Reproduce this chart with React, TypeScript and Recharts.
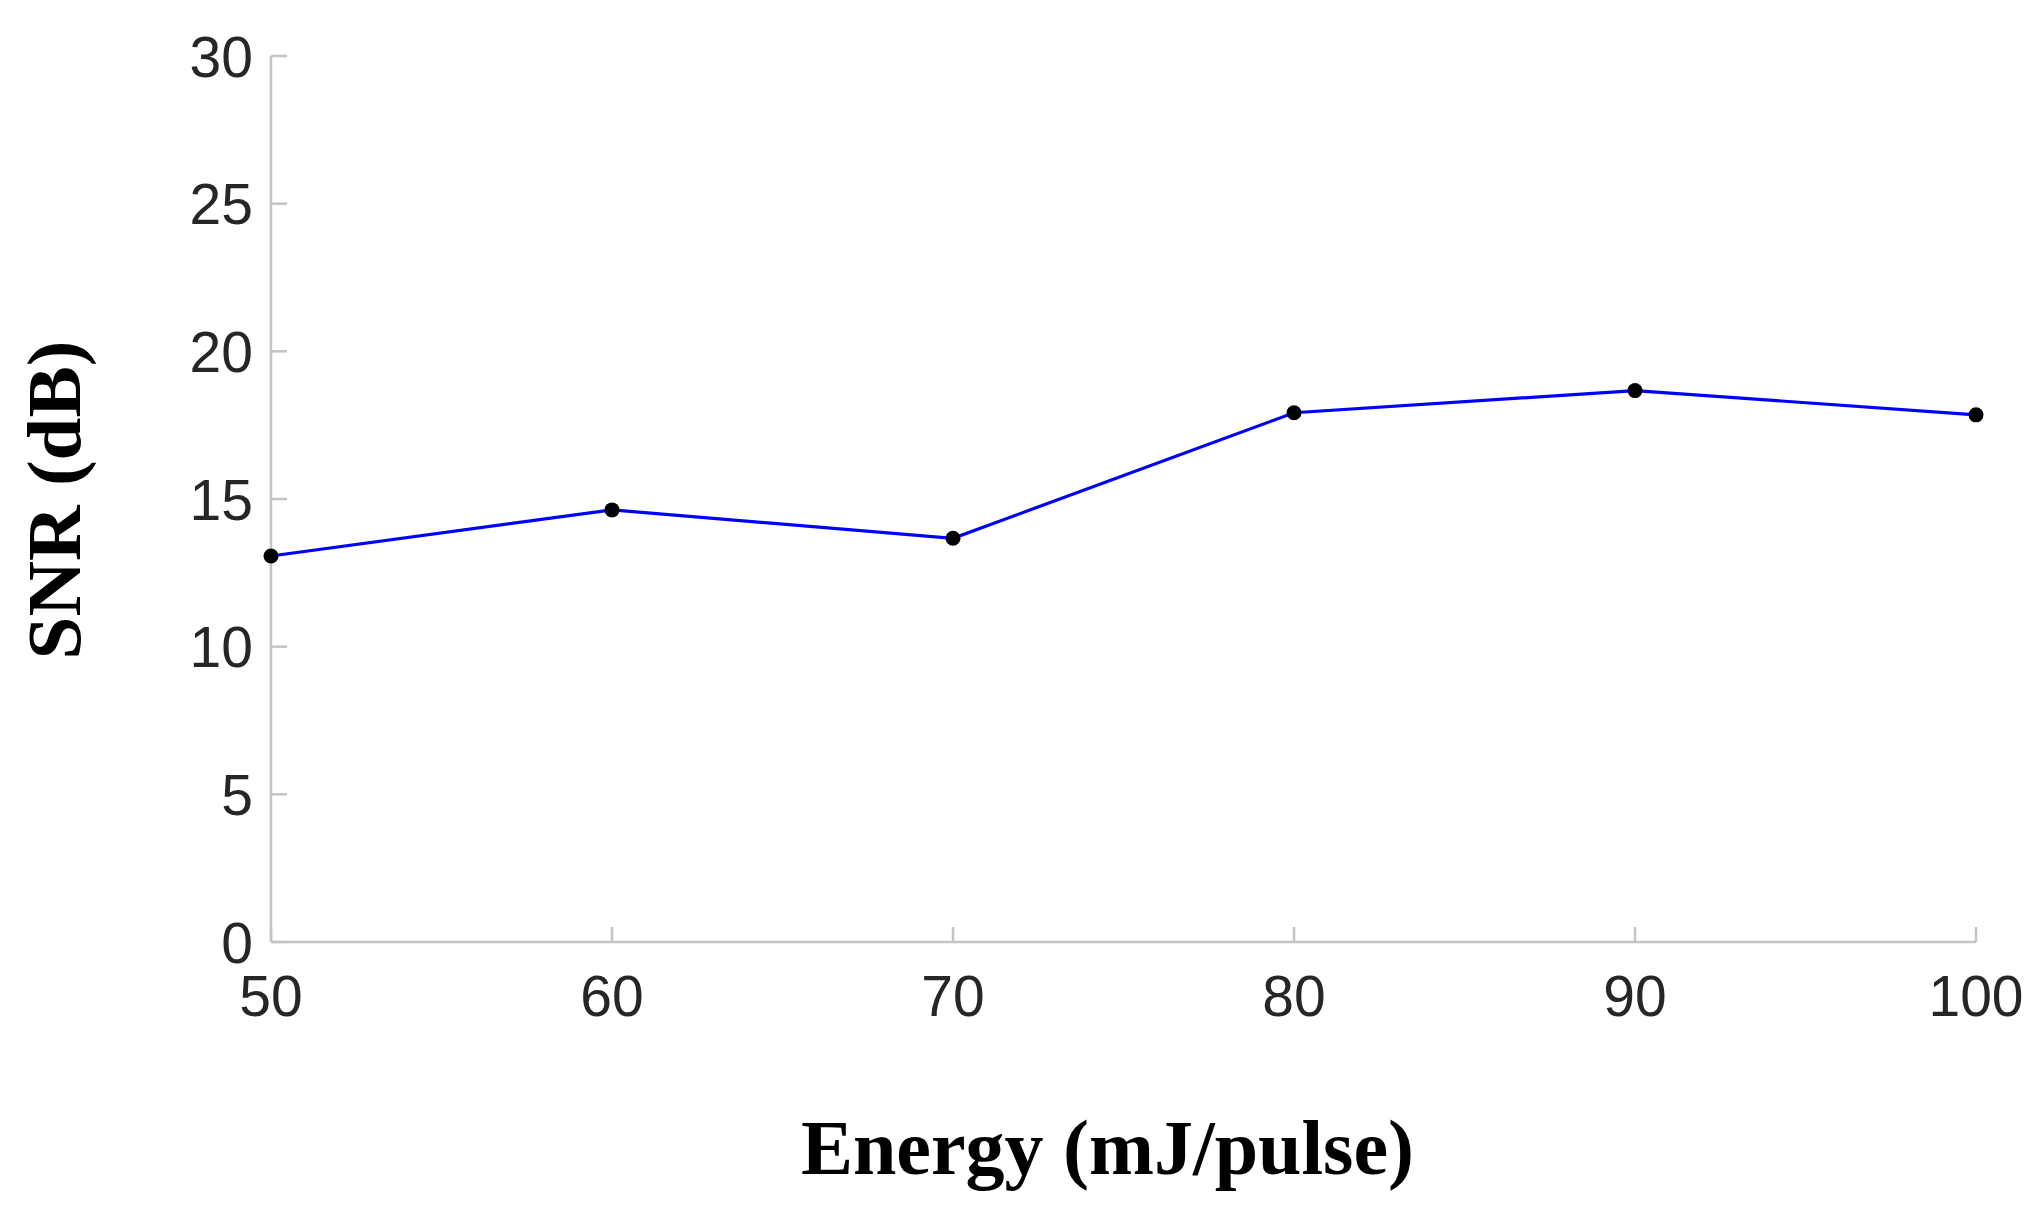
import { LineChart, Line, XAxis, YAxis, Label } from 'recharts';

const energy = [50, 60, 70, 80, 90, 100];
const snr = [13.07, 14.63, 13.67, 17.92, 18.67, 17.85];
const xTicks = [50, 60, 70, 80, 90, 100];
const yTicks = [0, 5, 10, 15, 20, 25, 30];

const data = energy.map((e, i) => ({ energy: e, snr: snr[i] }));

const AXIS = '#c4c4c4';
const TEXT = '#262626';
const SANS = '"Liberation Sans", Arial, sans-serif';
const SERIF = '"Liberation Serif", "Times New Roman", serif';

const Y_GAP = 18;
const X_GAP = 33;

const YTick = ({ x, y, payload }: any) => (
  <g>
    <line x1={x + Y_GAP} x2={x + Y_GAP + 16} y1={y} y2={y} stroke={AXIS} strokeWidth={2.5} />
    <text x={x} y={y} dy="0.36em" textAnchor="end" fontFamily={SANS} fontSize={57} fill={TEXT}>
      {payload.value}
    </text>
  </g>
);

const XTick = ({ x, y, payload }: any) => (
  <g>
    <line x1={x} x2={x} y1={y - X_GAP} y2={y - X_GAP - 15} stroke={AXIS} strokeWidth={2.5} />
    <text x={x} y={y} dy="0.72em" textAnchor="middle" fontFamily={SANS} fontSize={57} fill={TEXT}>
      {payload.value}
    </text>
  </g>
);

const XTitle = ({ viewBox }: any) => (
  <text
    x={viewBox.x + viewBox.width / 2 - 16}
    y={viewBox.y + 232}
    textAnchor="middle"
    fontFamily={SERIF}
    fontWeight="bold"
    fontSize={78}
    fill="#000"
  >
    Energy (mJ/pulse)
  </text>
);

const YTitle = ({ viewBox }: any) => {
  const tx = viewBox.x - 71;
  const ty = viewBox.y + viewBox.height / 2 + 1;
  return (
    <text
      x={tx}
      y={ty}
      transform={`rotate(-90, ${tx}, ${ty})`}
      textAnchor="middle"
      fontFamily={SERIF}
      fontWeight="bold"
      fontSize={77}
      fill="#000"
    >
      SNR (dB)
    </text>
  );
};

export default function App() {
  return (
    <div style={{ position: 'absolute', left: 0, top: 0, background: '#fff' }}>
      <LineChart
        width={2043}
        height={1213}
        data={data}
        margin={{ top: 56, right: 67, left: 151, bottom: 151 }}
      >
        <XAxis
          dataKey="energy"
          type="number"
          domain={[50, 100]}
          ticks={xTicks}
          height={120}
          axisLine={{ stroke: AXIS, strokeWidth: 2.5 }}
          tickLine={false}
          tickSize={0}
          tickMargin={X_GAP}
          tick={<XTick />}
          interval={0}
        >
          <Label content={<XTitle />} />
        </XAxis>
        <YAxis
          type="number"
          domain={[0, 30]}
          ticks={yTicks}
          width={120}
          axisLine={{ stroke: AXIS, strokeWidth: 2.5 }}
          tickLine={false}
          tickSize={0}
          tickMargin={Y_GAP}
          tick={<YTick />}
          interval={0}
        >
          <Label content={<YTitle />} />
        </YAxis>
        <Line
          dataKey="snr"
          type="linear"
          stroke="#0000ff"
          strokeWidth={3.2}
          dot={{ r: 7.5, fill: '#000', stroke: '#000', strokeWidth: 0 }}
          activeDot={false}
          isAnimationActive={false}
        />
      </LineChart>
    </div>
  );
}
